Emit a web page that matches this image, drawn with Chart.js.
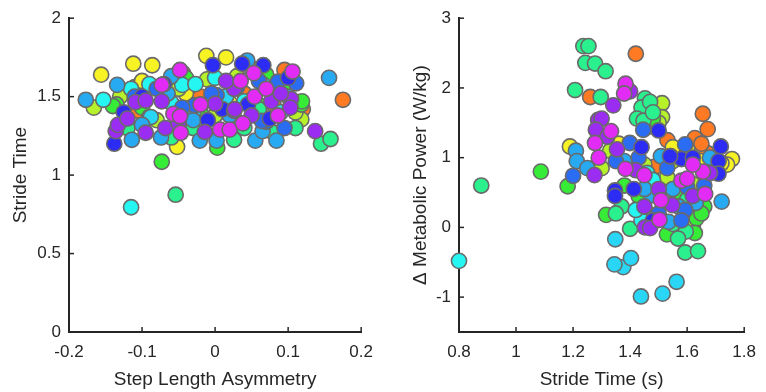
<!DOCTYPE html>
<html>
<head>
<meta charset="utf-8">
<script src="https://cdn.jsdelivr.net/npm/chart.js@4"></script>
<style>
  html, body { margin: 0; padding: 0; background: #fff; }
  .panel { position: absolute; top: 0; width: 383px; height: 392px; }
</style>
</head>
<body>
<div class="panel" style="left:0"><canvas id="asymChart" width="383" height="392"></canvas></div>
<div class="panel" style="left:383px"><canvas id="powerChart" width="383" height="392"></canvas></div>
<script>
// colour per subject group (drawn top first)
const groupColors = ["#e22cf5", "#9b2cf2", "#2c2cf5", "#2a6cf2", "#28aaf2", "#2ad6f6", "#25f6f2", "#2af08e", "#36ec36", "#b6f22a", "#f6f224", "#ff7a22"];

// left panel: [step length asymmetry, stride time]
const leftMagenta = [[-0.073,1.575],[-0.048,1.67],[-0.057,1.39],[-0.048,1.375],[-0.047,1.27],[0.007,1.29],[0.02,1.29],[0.035,1.60],[0.038,1.33],[0.054,1.50],[0.053,1.65],[0.086,1.38],[0.106,1.66],[-0.02,1.45],[0.07,1.55]];
const leftViolet = [[-0.136,1.28],[-0.133,1.32],[-0.109,1.465],[-0.095,1.475],[-0.073,1.47],[-0.095,1.27],[-0.068,1.30],[-0.014,1.275],[0.0,1.455],[0.026,1.41],[0.026,1.55],[0.077,1.47],[0.104,1.485],[0.103,1.43],[0.137,1.28],[0.027,1.42],[-0.05,1.33],[0.05,1.38],[-0.12,1.36],[0.09,1.52],[0.015,1.60]];
const leftDeepBlue = [[-0.125,1.40],[-0.138,1.20],[-0.003,1.70],[0.037,1.71],[0.066,1.70],[-0.1,1.5],[0.01,1.42],[0.075,1.36],[-0.07,1.58],[0.045,1.45],[0.1,1.62],[-0.01,1.35]];
const leftBlue = [[-0.028,1.445],[0.002,1.51],[0.07,1.34],[0.086,1.595],[0.111,1.585],[0.103,1.435],[0.064,1.345],[-0.08,1.55],[0.03,1.56],[-0.11,1.50],[-0.045,1.43],[0.06,1.60],[0.095,1.30],[-0.005,1.52]];
const leftLightBlue = [[-0.177,1.48],[-0.134,1.575],[-0.114,1.225],[-0.074,1.24],[-0.06,1.63],[-0.021,1.22],[0.002,1.22],[0.055,1.22],[0.084,1.22],[0.156,1.62],[0.044,1.73],[-0.03,1.35],[-0.10,1.32],[0.02,1.38],[0.065,1.28],[-0.065,1.52],[0.1,1.5]];
const leftSkyBlue = [[-0.088,1.37],[-0.03,1.40],[0.015,1.50]];
const leftCyan = [[-0.153,1.48],[-0.115,1.55],[-0.115,0.795],[-0.045,1.575],[-0.027,1.58],[0.066,1.575],[-0.06,1.46],[0.04,1.47],[-0.09,1.58],[0.0,1.62],[0.09,1.40]];
const leftSpring = [[-0.054,0.875],[0.026,1.225],[0.08,1.27],[0.145,1.20],[0.158,1.23],[-0.06,1.24],[0.04,1.3],[-0.09,1.37],[-0.12,1.30],[0.11,1.30],[-0.03,1.30],[0.06,1.42]];
const leftGreen = [[-0.135,1.45],[-0.073,1.085],[0.003,1.175],[0.059,1.45],[0.118,1.45],[0.119,1.47],[-0.02,1.4],[0.07,1.64],[-0.14,1.44],[-0.1,1.43],[0.03,1.34],[-0.04,1.62],[0.1,1.57]];
const leftLime = [[-0.011,1.61],[-0.166,1.43],[0.118,1.355],[-0.05,1.55],[0.03,1.63],[-0.13,1.5],[0.11,1.40],[-0.08,1.35],[0.05,1.68],[0.0,1.38]];
const leftYellow = [[-0.156,1.64],[-0.112,1.71],[-0.086,1.70],[-0.012,1.76],[0.015,1.75],[-0.052,1.18],[-0.04,1.52],[-0.07,1.5],[0.02,1.46],[-0.1,1.6]];
const leftOrange = [[-0.044,1.65],[0.095,1.67],[0.175,1.48],[-0.105,1.41],[-0.02,1.5],[0.08,1.45],[0.04,1.52],[-0.11,1.56],[0.12,1.42]];

// right panel: [stride time, delta metabolic power]
const rightMagenta = [[1.384,2.06],[1.379,1.92],[1.29,1.0],[1.277,1.21],[1.333,1.38],[1.384,0.84],[1.508,0.39],[1.503,0.11],[1.655,0.80],[1.58,0.67],[1.60,0.70],[1.663,0.48],[1.45,0.75],[1.62,0.9]];
const rightViolet = [[1.341,1.75],[1.40,1.95],[1.275,0.75],[1.288,1.54],[1.30,1.56],[1.354,1.12],[1.42,0.82],[1.548,0.32],[1.452,0.0],[1.47,-0.01],[1.68,0.78],[1.28,1.4],[1.32,1.3],[1.5,0.55],[1.62,0.45],[1.45,0.3]];
const rightDeepBlue = [[1.50,1.39],[1.542,1.02],[1.58,0.98],[1.718,1.16],[1.71,0.95],[1.71,0.77],[1.347,0.53],[1.347,0.45],[1.413,0.55],[1.54,1.02],[1.44,1.15],[1.62,1.0],[1.48,0.1]];
const rightBlue = [[1.20,0.74],[1.446,1.40],[1.593,1.19],[1.60,0.58],[1.593,0.25],[1.399,1.21],[1.43,1.0],[1.5,0.2],[1.53,0.85],[1.35,0.95],[1.66,0.6],[1.58,0.1]];
const rightLightBlue = [[1.21,1.10],[1.213,0.95],[1.475,0.46],[1.721,0.37],[1.63,0.35],[1.535,0.08],[1.508,1.02],[1.38,0.95],[1.55,0.55],[1.25,0.85],[1.45,0.55],[1.57,0.3],[1.68,1.0]];
const rightSkyBlue = [[1.348,-0.17],[1.376,-0.57],[1.403,-0.44],[1.345,-0.53],[1.438,-0.99],[1.514,-0.95],[1.563,-0.78]];
const rightCyan = [[0.80,-0.48],[1.46,0.78],[1.48,0.68],[1.44,0.1],[1.5,0.45],[1.42,0.25]];
const rightSpring = [[0.878,0.60],[1.236,2.60],[1.254,2.60],[1.243,2.36],[1.277,2.35],[1.314,2.24],[1.207,1.97],[1.297,1.87],[1.452,1.85],[1.44,1.72],[1.424,1.56],[1.447,1.53],[1.37,0.3],[1.595,-0.06],[1.568,-0.16],[1.593,-0.36],[1.638,-0.34],[1.40,-0.02],[1.47,1.8],[1.46,0.2],[1.48,1.65],[1.55,0.05],[1.35,0.2],[1.6,0.4]];
const rightGreen = [[1.087,0.80],[1.181,0.59],[1.48,1.56],[1.316,0.18],[1.633,0.13],[1.627,-0.08],[1.529,-0.10],[1.49,0.50],[1.43,0.45],[1.66,0.3],[1.46,1.65],[1.56,0.5],[1.38,0.6],[1.65,0.2]];
const rightLime = [[1.512,1.78],[1.512,1.58],[1.53,0.72],[1.62,0.62],[1.45,0.9],[1.3,0.85],[1.5,1.5],[1.55,0.95],[1.33,1.1],[1.62,0.02]];
const rightYellow = [[1.189,1.16],[1.60,1.12],[1.757,0.98],[1.74,0.9],[1.52,0.6],[1.72,0.92],[1.55,1.15],[1.65,0.95],[1.36,1.2]];
const rightOrange = [[1.42,2.49],[1.26,1.87],[1.531,1.25],[1.655,1.63],[1.672,1.41],[1.627,1.28],[1.669,1.07],[1.487,0.87],[1.6,0.05],[1.47,1.45],[1.58,1.0],[1.65,1.2]];

const leftGroups = [leftMagenta, leftViolet, leftDeepBlue, leftBlue, leftLightBlue, leftSkyBlue, leftCyan, leftSpring, leftGreen, leftLime, leftYellow, leftOrange];
const rightGroups = [rightMagenta, rightViolet, rightDeepBlue, rightBlue, rightLightBlue, rightSkyBlue, rightCyan, rightSpring, rightGreen, rightLime, rightYellow, rightOrange];

const asymTicks = [-0.2, -0.1, 0, 0.1, 0.2];
const strideTicks = [0, 0.5, 1, 1.5, 2];
const strideXTicks = [0.8, 1, 1.2, 1.4, 1.6, 1.8];
const powerTicks = [-1, 0, 1, 2, 3];

const textColor = "#262626";
const fontFamily = "'Liberation Sans', Arial, sans-serif";

// MATLAB style tick marks pointing into the axes
const innerTicks = {
  id: "innerTicks",
  afterDraw(chart) {
    const ctx = chart.ctx;
    const area = chart.chartArea;
    ctx.save();
    ctx.strokeStyle = textColor;
    ctx.lineWidth = 1.5;
    chart.scales.x.ticks.forEach(t => {
      const px = chart.scales.x.getPixelForValue(t.value);
      ctx.beginPath(); ctx.moveTo(px, area.bottom); ctx.lineTo(px, area.bottom - 5); ctx.stroke();
    });
    chart.scales.y.ticks.forEach(t => {
      const py = chart.scales.y.getPixelForValue(t.value);
      ctx.beginPath(); ctx.moveTo(area.left, py); ctx.lineTo(area.left + 5, py); ctx.stroke();
    });
    ctx.restore();
  }
};

function makeDatasets(groups) {
  return groups.map((pts, i) => ({
    data: pts.map(p => ({ x: p[0], y: p[1] })),
    backgroundColor: groupColors[i],
    borderColor: "#6a6a6a",
    borderWidth: 1.6,
    pointRadius: 7.6,
    pointHoverRadius: 7.6,
    clip: false
  }));
}

function axis(min, max, ticks, title, size, titlePad, tickPad) {
  return {
    type: "linear",
    min: min,
    max: max,
    afterBuildTicks: s => { s.ticks = ticks.map(v => ({ value: v })); },
    afterFit: s => { if (s.isHorizontal()) s.height = size; else s.width = size; },
    grid: { display: false, drawTicks: false },
    border: { display: true, color: textColor, width: 2 },
    ticks: {
      color: textColor,
      padding: tickPad,
      font: { family: fontFamily, size: 17 },
      callback: v => String(+v.toFixed(2))
    },
    title: {
      display: true,
      text: title,
      color: textColor,
      font: { family: fontFamily, size: 19, lineHeight: 1.2 },
      padding: titlePad
    }
  };
}

function makeChart(id, groups, xAxis, yAxis, rightPad) {
  return new Chart(document.getElementById(id), {
    type: "scatter",
    data: { datasets: makeDatasets(groups) },
    options: {
      responsive: false,
      animation: false,
      layout: { padding: { top: 13, right: rightPad, left: 0, bottom: 0 } },
      plugins: { legend: { display: false }, tooltip: { enabled: false } },
      scales: { x: xAxis, y: yAxis }
    },
    plugins: [innerTicks]
  });
}

makeChart("asymChart", leftGroups,
  axis(-0.2, 0.2, asymTicks, "Step Length Asymmetry", 60, { top: 0, bottom: 1 }, 10),
  axis(0, 2, strideTicks, "Stride Time", 69, { top: 9, bottom: 0 }, 8),
  17);

makeChart("powerChart", rightGroups,
  axis(0.8, 1.8, strideXTicks, "Stride Time (s)", 60, { top: 0, bottom: 1 }, 10),
  axis(-1.5, 3, powerTicks, "\u0394 Metabolic Power (W/kg)", 76, { top: 26, bottom: 0 }, 8),
  12);
</script>
</body>
</html>
